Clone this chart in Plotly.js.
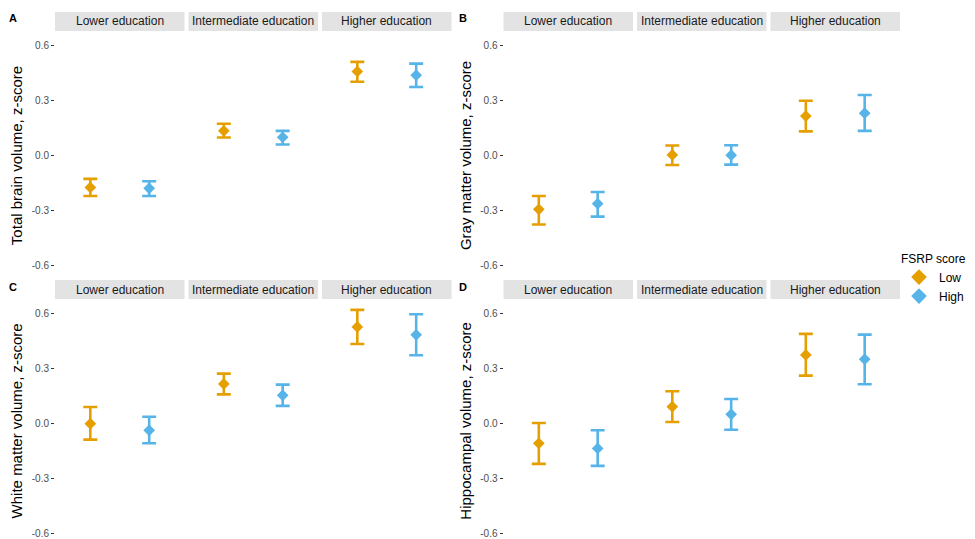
<!DOCTYPE html>
<html>
<head>
<meta charset="utf-8">
<script src="https://cdn.plot.ly/plotly-3.0.1.min.js"></script>
<style>html,body{margin:0;padding:0;background:#fff;}#chart{width:975px;height:539px;}</style>
</head>
<body>
<div id="chart"></div>
<script>
// ---- data ----
const education = ["Lower education", "Intermediate education", "Higher education"];
const fsrpGroups = ["Low", "High"];
const panelLetters = ["A", "B", "C", "D"];
const yTitles = ["Total brain volume, z-score", "Gray matter volume, z-score",
                 "White matter volume, z-score", "Hippocampal volume, z-score"];
const yTickVals = [-0.6, -0.3, 0, 0.3, 0.6];
const yTickText = ["-0.6", "-0.3", "0.0", "0.3", "0.6"];

// Panel A: total brain volume
const A_low_mean  = [-0.175, 0.135, 0.460];
const A_low_lo    = [-0.222, 0.099, 0.404];
const A_low_hi    = [-0.128, 0.174, 0.513];
const A_high_mean = [-0.180, 0.100, 0.440];
const A_high_lo   = [-0.222, 0.060, 0.375];
const A_high_hi   = [-0.141, 0.135, 0.503];
// Panel B: gray matter volume
const B_low_mean  = [-0.295, 0.003, 0.216];
const B_low_lo    = [-0.378, -0.052, 0.132];
const B_low_hi    = [-0.222, 0.055, 0.300];
const B_high_mean = [-0.264, 0.002, 0.232];
const B_high_lo   = [-0.335, -0.050, 0.135];
const B_high_hi   = [-0.200, 0.056, 0.331];
// Panel C: white matter volume
const C_low_mean  = [0.000, 0.217, 0.528];
const C_low_lo    = [-0.087, 0.160, 0.435];
const C_low_hi    = [0.091, 0.273, 0.621];
const C_high_mean = [-0.036, 0.155, 0.485];
const C_high_lo   = [-0.107, 0.097, 0.373];
const C_high_hi   = [0.038, 0.213, 0.597];
// Panel D: hippocampal volume
const D_low_mean  = [-0.107, 0.093, 0.375];
const D_low_lo    = [-0.219, 0.009, 0.262];
const D_low_hi    = [0.004, 0.177, 0.490];
const D_high_mean = [-0.135, 0.051, 0.352];
const D_high_lo   = [-0.230, -0.033, 0.215];
const D_high_hi   = [-0.036, 0.135, 0.486];

const panelData = [
  {Low: [A_low_mean, A_low_lo, A_low_hi], High: [A_high_mean, A_high_lo, A_high_hi]},
  {Low: [B_low_mean, B_low_lo, B_low_hi], High: [B_high_mean, B_high_lo, B_high_hi]},
  {Low: [C_low_mean, C_low_lo, C_low_hi], High: [C_high_mean, C_high_lo, C_high_hi]},
  {Low: [D_low_mean, D_low_lo, D_low_hi], High: [D_high_mean, D_high_lo, D_high_hi]}
];

// ---- styling / layout geometry ----
const colors = {Low: "#E69F00", High: "#56B4E9"};
const W = 975, H = 539;
const px = x => x / W;
const py = y => 1 - y / H;

const colLeft = [[55, 184.5], [188.5, 318], [322, 451.5]];
const colRight = [[503.5, 633], [637, 766.5], [770.5, 900]];
const rows = [
  {plotTop: 35, plotBottom: 276, stripTop: 12, stripBottom: 31, range: [-0.66, 0.66], letterY: 18},
  {plotTop: 302.7, plotBottom: 539, stripTop: 280, stripBottom: 299, range: [-0.629, 0.66], letterY: 287}
];

const traces = [];
const layout = {
  width: W, height: H,
  margin: {l: 0, r: 0, t: 0, b: 0},
  paper_bgcolor: "#ffffff",
  plot_bgcolor: "rgba(0,0,0,0)",
  font: {family: "Liberation Sans, Arial, sans-serif", color: "#000"},
  showlegend: true,
  legend: {
    x: px(899), y: py(247), xanchor: "left", yanchor: "top",
    title: {text: "FSRP score", font: {size: 12, color: "#000"}},
    font: {size: 12, color: "#000"},
    bgcolor: "rgba(0,0,0,0)",
    itemsizing: "constant",
    tracegroupgap: 0
  },
  shapes: [],
  annotations: []
};

let axisIdx = 0;
for (let p = 0; p < 4; p++) {
  const row = rows[Math.floor(p / 2)];
  const cols = (p % 2 === 0) ? colLeft : colRight;
  const yName = "yaxis" + (p + 1);
  const yId = "y" + (p + 1);
  const firstX = "x" + (axisIdx + 1);
  layout[yName] = {
    domain: [py(row.plotBottom), py(row.plotTop)],
    range: row.range,
    anchor: firstX,
    tickvals: yTickVals, ticktext: yTickText,
    ticks: "outside", ticklen: 3, tickwidth: 1, tickcolor: "#333333",
    tickfont: {size: 10, color: "#4D4D4D"},
    ticklabeloverflow: "allow",
    showgrid: false, zeroline: false, showline: false,
    title: {text: yTitles[p], font: {size: 15, color: "#000"}, standoff: 5},
    fixedrange: true
  };
  for (let f = 0; f < 3; f++) {
    axisIdx++;
    const xName = "xaxis" + axisIdx;
    const xId = "x" + axisIdx;
    layout[xName] = {
      domain: [px(cols[f][0]), px(cols[f][1])],
      range: [0.4, 2.6],
      anchor: yId,
      visible: false, showgrid: false, zeroline: false, fixedrange: true
    };
    // facet strip
    layout.shapes.push({
      type: "rect", xref: "paper", yref: "paper",
      x0: px(cols[f][0]), x1: px(cols[f][1]),
      y0: py(row.stripBottom), y1: py(row.stripTop),
      fillcolor: "#E3E3E3", line: {width: 0}, layer: "below"
    });
    layout.annotations.push({
      xref: "paper", yref: "paper",
      x: px((cols[f][0] + cols[f][1]) / 2), y: py((row.stripTop + row.stripBottom) / 2),
      text: education[f], showarrow: false, xanchor: "center", yanchor: "middle",
      font: {size: 12, color: "#1A1A1A"}
    });
    fsrpGroups.forEach((g, gi) => {
      const arr = panelData[p][g];
      const m = arr[0][f], lo = arr[1][f], hi = arr[2][f];
      traces.push({
        type: "scatter", mode: "markers",
        x: [gi + 1], y: [m],
        xaxis: xId, yaxis: yId,
        name: g, legendgroup: g,
        showlegend: (p === 0 && f === 0),
        marker: {symbol: "diamond", size: 9, color: colors[g]},
        error_y: {type: "data", symmetric: false, array: [hi - m], arrayminus: [m - lo],
                  color: colors[g], thickness: 2.6, width: 7},
        hoverinfo: "skip"
      });
    });
  }
  // panel letter
  layout.annotations.push({
    xref: "paper", yref: "paper",
    x: px(p % 2 === 0 ? 13 : 463), y: py(row.letterY),
    text: "<b>" + panelLetters[p] + "</b>", showarrow: false,
    xanchor: "center", yanchor: "middle",
    font: {size: 11, color: "#000"}
  });
}

Plotly.newPlot("chart", traces, layout, {staticPlot: true, displayModeBar: false});
</script>
</body>
</html>
